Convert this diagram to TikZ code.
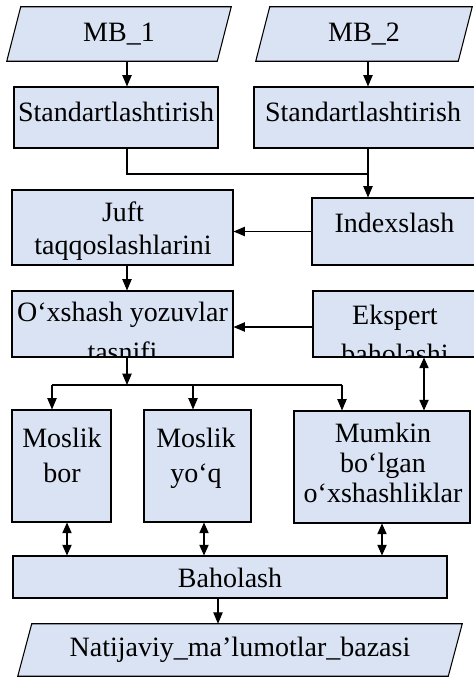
\documentclass[tikz,border=0pt]{standalone}
\usepackage{fontspec}
\setmainfont{Liberation Serif}
\usepackage{xcolor}
\usetikzlibrary{arrows.meta, calc, backgrounds, positioning}
\definecolor{boxfill}{RGB}{218,227,243}
\def\px{0.75pt}

\begin{document}
\begin{tikzpicture}[x=0.75pt, y=-0.75pt,
    box/.style={draw=black, fill=boxfill, line width=0.8pt, inner sep=0pt},
    txt/.style={inner sep=0pt, align=center, font=\fontsize{21}{25}\selectfont},
    arr/.style={line width=0.8pt, -{Triangle[length=8.5pt, width=7pt]}},
    darr/.style={line width=0.8pt, {Triangle[length=8pt, width=7pt]}-{Triangle[length=8pt, width=7pt]}},
    link/.style={line width=0.8pt}]

    \useasboundingbox (0,0) rectangle (474,679);

    % Define the columns of the connectors
    \coordinate (colL) at (127,0);
    \coordinate (colR) at (368,0);
    \coordinate (colE) at (424,0);
    \coordinate (join) at (368,174);
    \coordinate (split) at (127,385);
    \coordinate (splitA) at (52,385);
    \coordinate (splitB) at (193,385);
    \coordinate (splitC) at (342,385);

    % Input and output databases
    \node[txt, minimum width=210*\px, minimum height=54*\px] (mb1) at (119,34) {MB\_1};
    \node[txt, minimum width=202*\px, minimum height=54*\px] (mb2) at (364,34) {MB\_2};
    \node[txt, minimum width=430*\px, minimum height=52*\px] (nat) at (240,650) {Natijaviy\_ma’lumotlar\_bazasi};
    \begin{scope}[on background layer]
        \foreach \n in {mb1, mb2, nat}
            \draw[box] ($(\n.south west)+(-7,0)$) -- ($(\n.north west)+(7,0)$)
                -- ($(\n.north east)+(7,0)$) -- ($(\n.south east)+(-7,0)$) -- cycle;
    \end{scope}

    % Processing steps
    \node[box, minimum width=204*\px, minimum height=61*\px] (std1) at (116,117.5) {};
    \node[txt, anchor=north] (std1t) at (116,102) {Standartlashtirish};
    \node[box, minimum width=223*\px, minimum height=61*\px] (std2) at (365.5,117.5) {};
    \node[txt, anchor=north] (std2t) at (363,102) {Standartlashtirish};

    \node[box, minimum width=221*\px, minimum height=75*\px] (juft) at (122.5,227.5) {};
    \node[txt, anchor=north, font=\fontsize{21}{24.75}\selectfont] (juftt) at (123,202) {Juft\\taqqoslashlarini};
    \node[box, minimum width=165*\px, minimum height=67*\px] (idx) at (394.5,231.5) {};
    \node[txt, anchor=north] (idxt) at (394.5,213) {Indexslash};

    \node[box, minimum width=221*\px, minimum height=66*\px] (oxs) at (122.5,324) {};
    \node[box, minimum width=164*\px, minimum height=66*\px] (eks) at (395,324) {};
    \begin{scope}
        \clip (oxs.south west) rectangle (oxs.north east);
        \node[txt, anchor=north, font=\fontsize{21}{30}\selectfont] (oxst) at (122.5,302) {O‘xshash yozuvlar\\tasnifi};
    \end{scope}
    \begin{scope}
        \clip (eks.south west) rectangle (eks.north east);
        \node[txt, anchor=north, font=\fontsize{21}{29}\selectfont] (ekst) at (395,305) {Ekspert\\baholashi};
    \end{scope}

    \node[box, minimum width=99*\px, minimum height=112*\px] (bor) at (61.5,466) {};
    \node[txt, anchor=north, font=\fontsize{21}{26.25}\selectfont] (bort) at (62,428) {Moslik\\bor};
    \node[box, minimum width=107*\px, minimum height=112*\px] (yoq) at (197.5,466) {};
    \node[txt, anchor=north, font=\fontsize{21}{26.25}\selectfont] (yoqt) at (196,428) {Moslik\\yo‘q};
    \node[box, minimum width=176*\px, minimum height=112*\px] (mum) at (382,467) {};
    \node[txt, anchor=north, font=\fontsize{21}{22.5}\selectfont] (mumt) at (383,423) {Mumkin\\bo‘lgan\\o‘xshashliklar};

    \node[box, minimum width=434*\px, minimum height=42*\px] (bah) at (230,577) {};
    \node[txt, anchor=north] (baht) at (230,568) {Baholash};

    % Connectors
    \draw[arr] (mb1.south -| colL) -- (std1.north -| colL);
    \draw[arr] (mb2.south -| colR) -- (std2.north -| colR);
    \draw[link] (std1.south -| colL) |- (join);
    \draw[arr] (std2.south -| colR) -- (idx.north -| colR);
    \draw[arr] (idx.west) -- (idx.west -| juft.east);
    \draw[arr] ($(eks.west)+(0,3)$) -- ($(eks.west -| oxs.east)+(0,3)$);
    \draw[arr] (juft.south -| colL) -- (oxs.north -| colL);
    \draw[arr] (oxs.south -| colL) -- (split);
    \draw[link] (splitA) -- (splitC);
    \foreach \s/\b in {splitA/bor, splitB/yoq, splitC/mum}
        \draw[arr] (\s) -- (\s |- \b.north);
    \draw[darr] (eks.south -| colE) -- (mum.north -| colE);
    \foreach \b/\x in {bor/67, yoq/204, mum/382}
        \draw[darr] (\b.south -| \x,0) -- (bah.north -| \x,0);
    \draw[arr] (bah.south -| 218,0) -- (nat.north -| 218,0);
\end{tikzpicture}
\end{document}
